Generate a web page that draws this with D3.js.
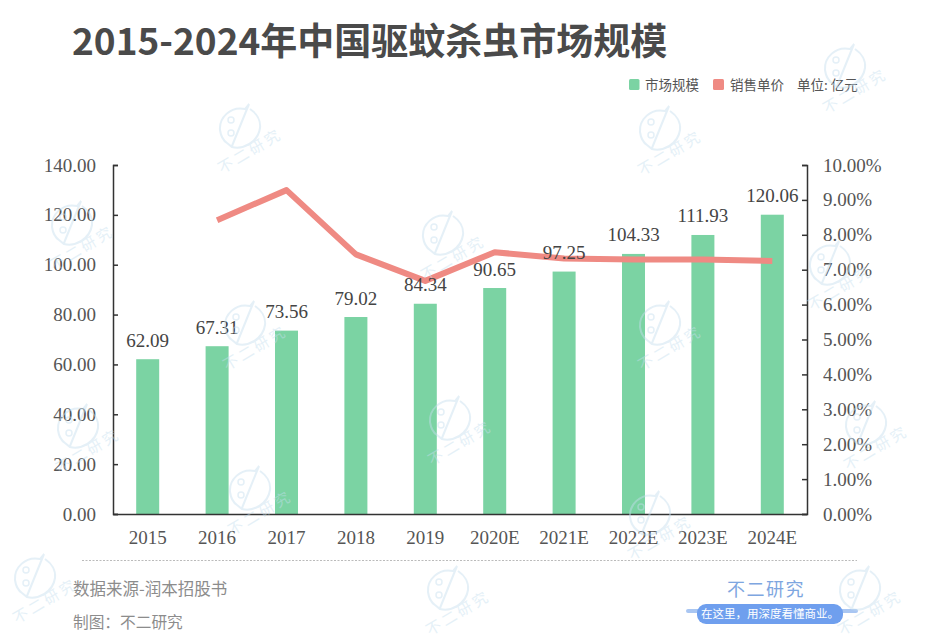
<!DOCTYPE html>
<html>
<head>
<meta charset="utf-8">
<script src="https://cdn.jsdelivr.net/npm/d3@7"></script>
<style>
  html, body { margin: 0; padding: 0; background: #fff; }
  text { font-family: "Noto Sans CJK SC", sans-serif; }
  .num text, text.num { font-family: "Liberation Serif", serif; font-size: 19px; fill: #555; }
</style>
</head>
<body>
<script>
// values
var years = ['2015', '2016', '2017', '2018', '2019', '2020E', '2021E', '2022E', '2023E', '2024E'];
var marketSize = [62.09, 67.31, 73.56, 79.02, 84.34, 90.65, 97.25, 104.33, 111.93, 120.06];
var unitPrice = [null, 8.42, 9.28, 7.44, 6.68, 7.5, 7.32, 7.29, 7.29, 7.25];
var leftTicks = [0, 20, 40, 60, 80, 100, 120, 140];
var rightTicks = [0, 1, 2, 3, 4, 5, 6, 7, 8, 9, 10];

var width = 940, height = 644;
var left = 113, right = 807, top_ = 165, bottom = 514;
var green = '#7bd3a3', red = '#ef8a83';

var svg = d3.select('body').append('svg')
    .attr('width', width).attr('height', height)
    .style('display', 'block');

// title
svg.append('text')
  .attr('x', 72).attr('y', 55)
  .attr('font-size', 37)
  .attr('font-weight', 700)
  .attr('fill', '#4a4a4a')
  .text('2015-2024年中国驱蚊杀虫市场规模');

// legend
svg.append('rect').attr('x', 629).attr('y', 79).attr('width', 10.5).attr('height', 11).attr('rx', 1.5).attr('fill', green);
svg.append('rect').attr('x', 713).attr('y', 79).attr('width', 11).attr('height', 11).attr('rx', 1.5).attr('fill', red);
svg.selectAll('.legend')
  .data([['市场规模', 645], ['销售单价', 730], ['单位: 亿元', 797]])
  .enter()
  .append('text')
  .attr('class', 'legend')
  .attr('x', function (d) { return d[1]; })
  .attr('y', 90)
  .attr('font-size', 13.5)
  .attr('fill', '#555')
  .text(function (d) { return d[0]; });

// scales
var x = d3.scaleBand().domain(years).range([left, right]);
var y = d3.scaleLinear().domain([0, 140]).range([bottom, top_]);
var y2 = d3.scaleLinear().domain([0, 10]).range([bottom, top_]);
var barW = 23;

// bars
svg.selectAll('.bar')
  .data(years)
  .enter()
  .append('rect')
  .attr('class', 'bar')
  .attr('x', function (d) { return x(d) + x.bandwidth() / 2 - barW / 2; })
  .attr('y', function (d, i) { return y(marketSize[i]); })
  .attr('width', barW)
  .attr('height', function (d, i) { return bottom - y(marketSize[i]); })
  .attr('fill', green);

// axes
var axisLeft = d3.axisLeft(y).tickValues(leftTicks).tickSize(-5).tickPadding(17)
  .tickFormat(function (d) { return d.toFixed(2); });
var axisRight = d3.axisRight(y2).tickValues(rightTicks).tickSize(-5).tickPadding(16)
  .tickFormat(function (d) { return d.toFixed(2) + '%'; });
var axisBottom = d3.axisBottom(x).tickSize(0).tickPadding(17);

[svg.append('g').attr('transform', 'translate(' + left + ',0)').call(axisLeft),
 svg.append('g').attr('transform', 'translate(' + right + ',0)').call(axisRight),
 svg.append('g').attr('transform', 'translate(0,' + bottom + ')').call(axisBottom)
].forEach(function (g) {
  g.attr('class', 'num');
  g.attr('font-family', null).attr('font-size', null);
  g.selectAll('path, line').attr('stroke', '#333').attr('stroke-width', 1.5);
  g.selectAll('text').attr('fill', '#555');
});

// line on top of bars
var line = d3.line()
  .defined(function (d) { return d !== null; })
  .x(function (d, i) { return x(years[i]) + x.bandwidth() / 2; })
  .y(function (d) { return y2(d); });

svg.append('path')
  .attr('d', line(unitPrice))
  .attr('fill', 'none')
  .attr('stroke', red)
  .attr('stroke-width', 6)
  .attr('stroke-linejoin', 'round');

// bar labels
svg.selectAll('.label')
  .data(marketSize)
  .enter()
  .append('text')
  .attr('class', 'num label')
  .attr('x', function (d, i) { return x(years[i]) + x.bandwidth() / 2; })
  .attr('y', function (d) { return y(d) - 12.5; })
  .attr('text-anchor', 'middle')
  .style('fill', '#444')
  .text(function (d) { return d.toFixed(2); });

// footer
svg.append('line')
  .attr('x1', 82).attr('x2', 857).attr('y1', 560.5).attr('y2', 560.5)
  .attr('stroke', '#bbb').attr('stroke-dasharray', '2,1.5');

svg.append('text').attr('x', 73).attr('y', 595).attr('font-size', 16.5).attr('fill', '#8c8c8c').text('数据来源-润本招股书');
svg.append('text').attr('x', 73).attr('y', 628).attr('font-size', 15.7).attr('fill', '#8c8c8c').text('制图：不二研究');

svg.append('text').attr('x', 766).attr('y', 596).attr('text-anchor', 'middle')
  .attr('font-size', 18).attr('letter-spacing', 1.5).attr('fill', '#7ea6e0').text('不二研究');
svg.append('rect').attr('x', 686).attr('y', 609).attr('width', 172).attr('height', 4).attr('rx', 2).attr('fill', '#a9c6f2');
svg.append('rect').attr('x', 697).attr('y', 604).attr('width', 146).attr('height', 20).attr('rx', 9).attr('fill', '#6f9fee');
svg.append('text').attr('x', 770).attr('y', 618).attr('text-anchor', 'middle')
  .attr('font-size', 11.5).attr('fill', '#fff').text('在这里，用深度看懂商业。');

// watermark sits faintly over everything
var stamps = [[240, 128], [660, 130], [845, 68], [72, 225], [443, 235], [830, 265], [245, 325],
  [660, 325], [450, 420], [78, 428], [866, 425], [250, 490], [650, 515], [35, 578], [448, 590], [860, 590]];

var stamp = svg.selectAll('.stamp')
  .data(stamps)
  .enter()
  .append('g')
  .attr('class', 'stamp')
  .attr('transform', function (d) { return 'translate(' + d[0] + ',' + d[1] + ')'; })
  .style('opacity', 0.45);

stamp.append('path')
  .attr('d', 'M9,-24 L-8,18 M9,-24 L5,-19 C-10,-22 -21,-10 -20,2 C-19,9 -16,13 -13,15 L-8,19 C3,22 18,14 20,0 C21,-8 16,-15 10,-19')
  .attr('fill', 'none')
  .attr('stroke', '#c6dfef')
  .attr('stroke-width', 2);

stamp.append('circle').attr('cx', -9).attr('cy', -8).attr('r', 3)
  .attr('fill', 'none').attr('stroke', '#c6dfef').attr('stroke-width', 1.5);
stamp.append('circle').attr('cx', -9).attr('cy', 5).attr('r', 3)
  .attr('fill', 'none').attr('stroke', '#c6dfef').attr('stroke-width', 1.5);

stamp.append('text')
  .attr('transform', 'translate(-18,46) rotate(-31)')
  .attr('font-size', 15)
  .attr('letter-spacing', 3)
  .attr('fill', '#c6dfef')
  .text('不二研究');
</script>
</body>
</html>
